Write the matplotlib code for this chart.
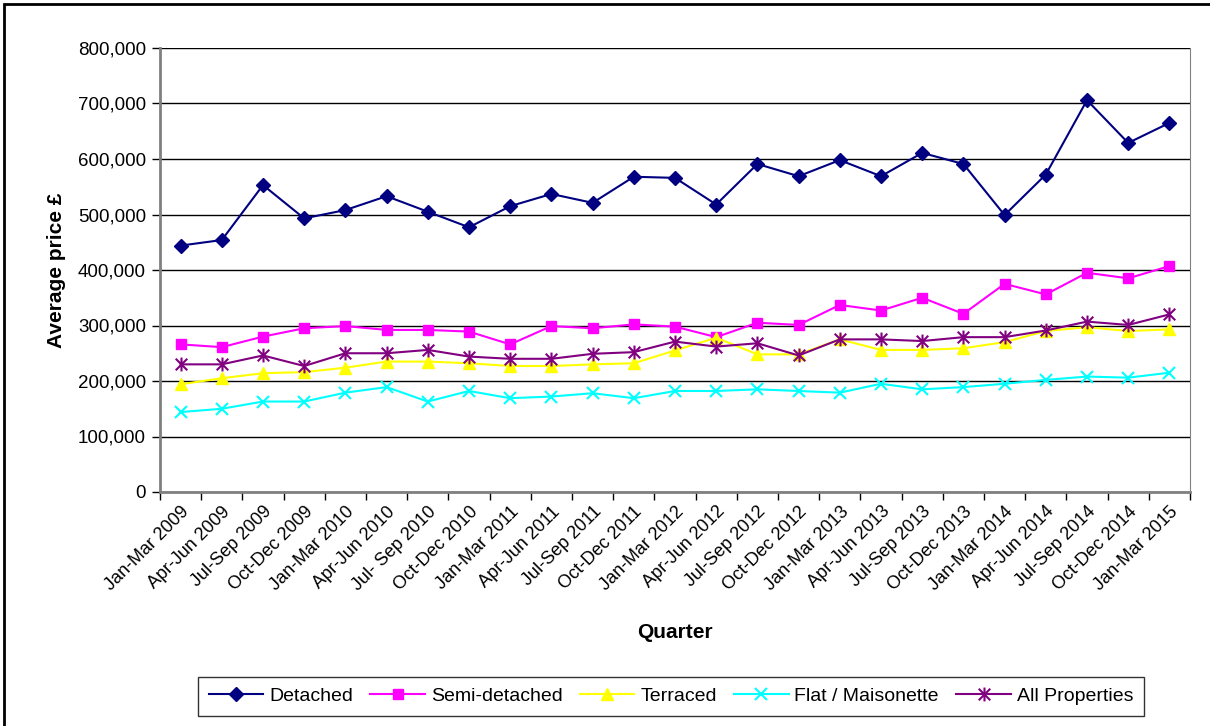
import matplotlib.pyplot as plt
import numpy as np
from matplotlib.path import Path
from matplotlib.patches import Rectangle
from matplotlib.ticker import FuncFormatter, FixedLocator

plt.rcParams['font.family'] = ['Liberation Sans', 'DejaVu Sans']

# quarters on the x axis
quarters = ["Jan-Mar 2009", "Apr-Jun 2009", "Jul-Sep 2009", "Oct-Dec 2009",
            "Jan-Mar 2010", "Apr-Jun 2010", "Jul- Sep 2010", "Oct-Dec 2010",
            "Jan-Mar 2011", "Apr-Jun 2011", "Jul-Sep 2011", "Oct-Dec 2011",
            "Jan-Mar 2012", "Apr-Jun 2012", "Jul-Sep 2012", "Oct-Dec 2012",
            "Jan-Mar 2013", "Apr-Jun 2013", "Jul-Sep 2013", "Oct-Dec 2013",
            "Jan-Mar 2014", "Apr-Jun 2014", "Jul-Sep 2014", "Oct-Dec 2014",
            "Jan-Mar 2015"]

# average prices
detached = [444000, 454000, 553000, 493000, 508000, 533000, 505000, 477000,
            515000, 537000, 521000, 568000, 566000, 518000, 591000, 569000,
            598000, 569000, 611000, 591000, 499000, 572000, 706000, 629000,
            665000]
semi = [266000, 261000, 280000, 295000, 299000, 292000, 292000, 289000,
        266000, 299000, 295000, 302000, 298000, 279000, 305000, 301000,
        337000, 327000, 350000, 321000, 375000, 356000, 395000, 385000,
        407000]
terraced = [194000, 205000, 214000, 216000, 224000, 235000, 235000, 232000,
            227000, 227000, 230000, 232000, 255000, 278000, 248000, 248000,
            275000, 256000, 256000, 259000, 270000, 290000, 297000, 290000,
            293000]
flat = [144000, 150000, 163000, 163000, 179000, 189000, 163000, 182000,
        169000, 172000, 178000, 169000, 182000, 182000, 185000, 182000,
        179000, 195000, 185000, 189000, 195000, 202000, 208000, 206000,
        215000]
all_props = [230000, 230000, 246000, 227000, 250000, 250000, 256000, 244000,
             240000, 240000, 249000, 252000, 271000, 262000, 268000, 246000,
             275000, 275000, 272000, 279000, 279000, 291000, 307000, 301000,
             320000]

# excel style star: an x with a vertical bar through it
star = Path([(-1, -1), (1, 1), (-1, 1), (1, -1), (0, -1.2), (0, 1.2)],
            [Path.MOVETO, Path.LINETO, Path.MOVETO, Path.LINETO,
             Path.MOVETO, Path.LINETO])

fig = plt.figure(figsize=(12.1, 7.26), dpi=100)
ax = fig.add_axes([160 / 1210, 1 - 492 / 726, 1030 / 1210, 444 / 726])

x = np.arange(len(quarters))
lw = 1.5
ax.plot(x, detached, color='#000080', lw=lw, marker='D', ms=7, label='Detached')
ax.plot(x, semi, color='#FF00FF', lw=lw, marker='s', ms=7.5, label='Semi-detached')
ax.plot(x, terraced, color='#FFFF00', lw=lw, marker='^', ms=9, label='Terraced')
ax.plot(x, flat, color='#00FFFF', lw=lw, marker='x', ms=8, mew=1.5,
        label='Flat / Maisonette')
ax.plot(x, all_props, color='#800080', lw=lw, marker=star, ms=10, mew=1.5,
        label='All Properties')

ax.set_xlim(-0.5, len(quarters) - 0.5)
ax.set_ylim(0, 800000)
ax.set_yticks(np.arange(0, 800001, 100000))
ax.yaxis.set_major_formatter(FuncFormatter(lambda v, p: f"{int(v):,}"))
ax.grid(axis='y', color='black', lw=1)
ax.set_axisbelow(True)

ax.set_xticks(x)
ax.set_xticklabels(quarters, rotation=45, ha='right', rotation_mode='anchor',
                   fontsize=13)
ax.xaxis.set_minor_locator(FixedLocator(np.arange(-0.5, len(quarters), 1)))
ax.tick_params(axis='x', which='major', length=0, pad=8)
ax.tick_params(axis='x', which='minor', length=6, width=1)
ax.tick_params(axis='y', length=6, width=1, labelsize=13.5, pad=4)

ax.spines['top'].set_visible(False)
ax.spines['right'].set_color('#808080')
ax.spines['left'].set_color('#808080')
ax.spines['left'].set_linewidth(2)
ax.spines['bottom'].set_color('#808080')
ax.spines['bottom'].set_linewidth(2)

fig.text(57 / 1210, 1 - 270 / 726, 'Average price £', rotation=90, ha='center',
         va='center', fontsize=15, fontweight='bold')
fig.text(675 / 1210, 1 - 633 / 726, 'Quarter', ha='center', va='center',
         fontsize=15, fontweight='bold')

leg = fig.legend(loc='center', bbox_to_anchor=(671 / 1210, 1 - 696 / 726),
                 ncol=5, fontsize=14, frameon=True, fancybox=False,
                 edgecolor='black', handlelength=2.8, columnspacing=0.9,
                 handletextpad=0.3, borderpad=0.55)
leg.get_frame().set_linewidth(1)

# outer chart border
fig.patches.append(Rectangle((4 / 1210, -0.1), 1.2, 1 - 4 / 726 + 0.1,
                             transform=fig.transFigure, fill=False,
                             edgecolor='black', lw=2))

fig.savefig('out.png', dpi=100)
